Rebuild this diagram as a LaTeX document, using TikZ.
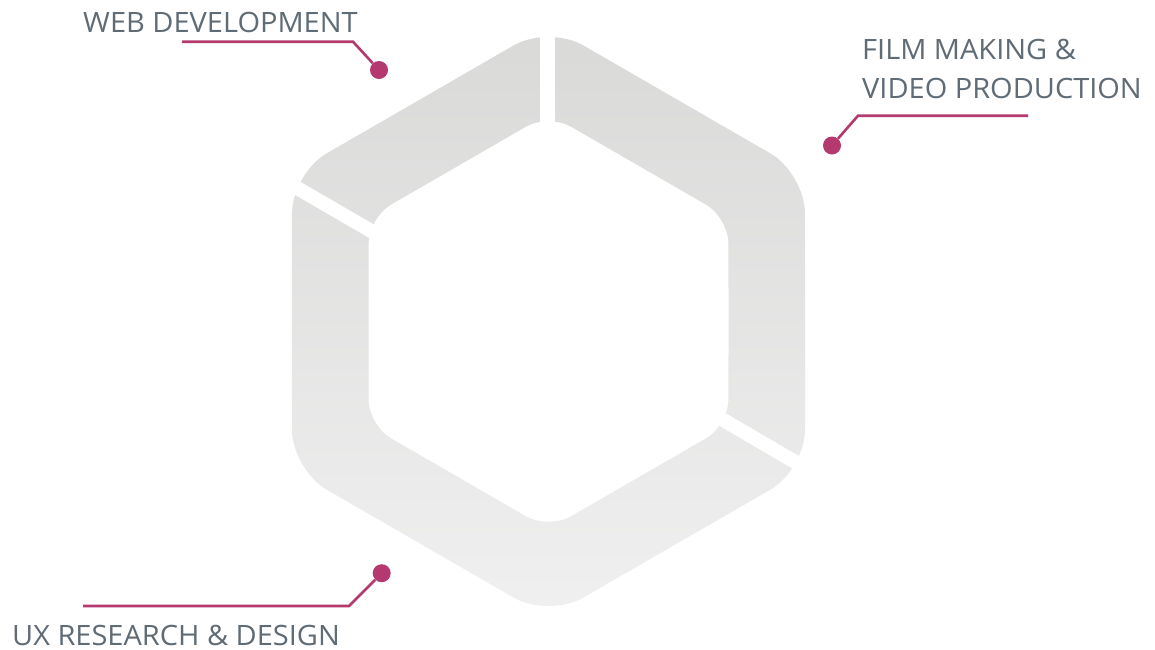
\documentclass[tikz,border=0pt]{standalone}
\usepackage{fontspec}
\setmainfont{Open Sans}[FakeStretch=1.035]
\definecolor{txt}{HTML}{5F6B75}
\definecolor{mag}{HTML}{B3396F}
\definecolor{hextop}{HTML}{D9D9D8}
\definecolor{hexbot}{HTML}{F0F0F0}
\begin{document}
\begin{tikzpicture}[x=1pt,y=-1pt,
  lbl/.style={font=\fontsize{28}{34}\selectfont, text=txt, inner sep=0pt, anchor=base west},
  dotn/.style={circle, fill=mag, inner sep=0pt, minimum size=18pt},
  lead/.style={draw=mag, line width=2.6pt},
  gapline/.style={draw=white, line width=14pt}]
\fill[white] (0,0) rectangle (1155,649);
\useasboundingbox (0,0) rectangle (1155,649);

% hexagon ring
\begin{scope}[shift={(548.5,321.5)}]
\shade[even odd rule, top color=hextop, bottom color=hexbot]
  [rounded corners=40pt] (256.5,0) -- (30:296.2) -- (90:296.2) -- (150:296.2) -- (210:296.2) -- (270:296.2) -- (330:296.2) -- cycle
  [rounded corners=26pt] (180,0) -- (30:207.8) -- (90:207.8) -- (150:207.8) -- (210:207.8) -- (270:207.8) -- (330:207.8) -- cycle;
\end{scope}

% gaps between segments
\fill[white] (539.5,20) rectangle (555,140);
\draw[gapline] (279,177.5) -- (385,239);
\draw[gapline] (708,411) -- (814,473);

% labels
\node[lbl] (web) at (83,32.7) {WEB DEVELOPMENT};
\node[lbl] (film1) at (862,59) {FILM MAKING \&};
\node[lbl] (film2) at (862,98) {VIDEO PRODUCTION};
\node[lbl] (ux) at (12,645.5) {UX RESEARCH \& DESIGN};

% leader lines and dots
\node[dotn] (webdot) at (379,70) {};
\coordinate (webend) at (182,41.7);
\coordinate (webbend) at (353,41.7);
\draw[lead] (webend) -- (webbend) -- (webdot);

\node[dotn] (filmdot) at (832,145.5) {};
\coordinate (filmend) at (1028,115.7);
\coordinate (filmbend) at (858,115.7);
\draw[lead] (filmend) -- (filmbend) -- (filmdot);

\node[dotn] (uxdot) at (381.7,573.2) {};
\coordinate (uxend) at (83,606);
\coordinate (uxbend) at (349,606);
\draw[lead] (uxend) -- (uxbend) -- (uxdot);
\end{tikzpicture}
\end{document}
